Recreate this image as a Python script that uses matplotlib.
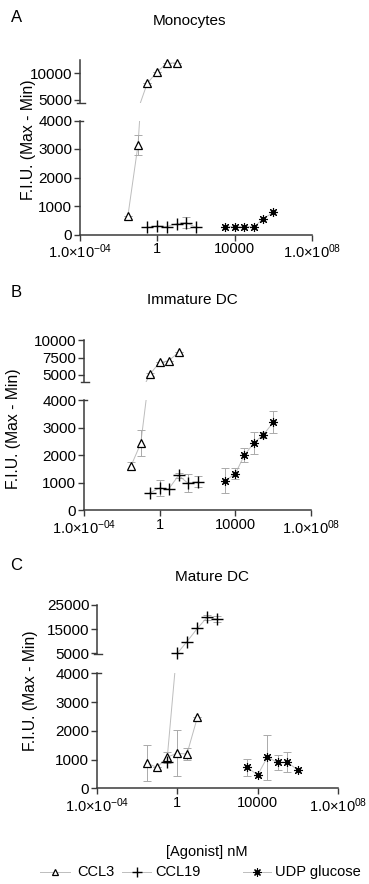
import numpy as np
import matplotlib
matplotlib.use('Agg')
import matplotlib.pyplot as plt
from matplotlib.lines import Line2D

plt.rcParams['font.family'] = ['Liberation Sans', 'DejaVu Sans']
plt.rcParams['mathtext.fontset'] = 'custom'
plt.rcParams['mathtext.rm'] = 'Liberation Sans'
plt.rcParams['mathtext.default'] = 'regular'

# Концентрации агонистов (нМ)
ccl3_x = [0.03, 0.1, 0.3, 1, 3, 10]
ccl19_x = [0.3, 1, 3, 10, 30, 100]
udp_x = [3000, 10000, 30000, 1e5, 3e5, 1e6]

# A - моноциты
ccl3_a = [650, 3140, 8120, 10300, 11870, 11990]
ccl3_a_err = [0, 350, 0, 0, 0, 0]
ccl19_a = [250, 300, 280, 380, 420, 250]
ccl19_a_err = [0, 0, 0, 0, 200, 0]
udp_a = [270, 270, 270, 270, 550, 780]
udp_a_err = [0, 0, 0, 0, 0, 0]

# B - незрелые DC
ccl3_b = [1610, 2440, 5100, 6800, 7040, 8240]
ccl3_b_err = [150, 470, 200, 0, 0, 0]
ccl19_b = [640, 820, 780, 1280, 1000, 1040]
ccl19_b_err = [0, 280, 0, 100, 330, 200]
udp_b = [1090, 1340, 2010, 2470, 2750, 3200]
udp_b_err = [450, 200, 250, 400, 100, 400]

# C - зрелые DC
ccl3_c = [870, 730, 1080, 1220, 1190, 2470]
ccl3_c_err = [620, 0, 200, 800, 200, 0]
ccl19_c = [900, 5000, 9800, 15350, 19840, 19100]
ccl19_c_err = [0, 0, 0, 0, 1200, 1200]
udp_c = [730, 460, 1080, 900, 900, 640]
udp_c_err = [300, 0, 780, 250, 350, 0]

x_ticks = [1e-4, 1, 1e4, 1e8]
x_labels = ['1.0×10$^{-04}$', '1', '10000', '1.0×10$^{08}$']
low_ticks = [0, 1000, 2000, 3000, 4000]
legend_names = ['CCL3', 'CCL19', 'UDP glucose']

W, H = 369, 884
fig = plt.figure(figsize=(W / 100, H / 100), dpi=100)

ax_col = '#3a3a3a'
line_col = '#bdbdbd'
err_col = '#aaaaaa'


def box(left, right, top, bottom):
    return [left / W, 1 - bottom / H, (right - left) / W, (bottom - top) / H]


def style(ax):
    for s in ['top', 'right']:
        ax.spines[s].set_visible(False)
    for s in ['left', 'bottom']:
        ax.spines[s].set_color(ax_col)
        ax.spines[s].set_linewidth(1.1)
    ax.tick_params(direction='out', length=4, width=1, color=ax_col, pad=1.5)
    ax.tick_params(axis='y', labelsize=11)
    ax.tick_params(axis='x', labelsize=10.5)
    ax.set_xscale('log')
    ax.set_xlim(1e-4, 1e8)
    ax.minorticks_off()
    ax.patch.set_alpha(0)


def marker_kw(kind):
    if kind == 'ccl3':
        return [dict(marker='^', ms=5.5, mfc='white', mec='k', mew=0.9)]
    if kind == 'ccl19':
        return [dict(marker='+', ms=8, mec='k', mew=1.0)]
    return [dict(marker='o', ms=3.2, mfc='k', mec='k', mew=0.5),
            dict(marker=(8, 2, 0), ms=6.5, mec='k', mew=0.8)]


def draw_series(ax, x, y, err, lo, hi, kind):
    x = np.array(x, dtype=float)
    y = np.array(y, dtype=float)
    err = np.array(err, dtype=float)
    ax.plot(x, y, color=line_col, lw=0.7, zorder=1)
    m = (y >= lo) & (y <= hi)
    if not m.any():
        return
    ax.errorbar(x[m], y[m], yerr=err[m], fmt='none', ecolor=err_col,
                elinewidth=0.7, capsize=3, capthick=0.7, zorder=2, clip_on=False)
    for kw in marker_kw(kind):
        ax.plot(x[m], y[m], ls='none', zorder=3, clip_on=False, **kw)


def panel(letter, title, pos, up_lim, up_ticks, data, letter_xy, title_xy, ylab_xy):
    left, right, up_top, up_bot, lo_top, lo_bot = pos
    ax_lo = fig.add_axes(box(left, right, lo_top, lo_bot))
    ax_up = fig.add_axes(box(left, right, up_top, up_bot))
    style(ax_lo)
    style(ax_up)
    ax_lo.set_ylim(0, 4000)
    ax_lo.set_yticks(low_ticks)
    ax_lo.set_xticks(x_ticks)
    ax_lo.set_xticklabels(x_labels)
    ax_up.set_ylim(*up_lim)
    ax_up.set_yticks(up_ticks)
    ax_up.spines['bottom'].set_visible(False)
    ax_up.set_xticks([])
    # знаки разрыва оси
    ax_lo.plot([0, 0.015], [4000, 4000], color=ax_col, lw=1,
               transform=ax_lo.get_yaxis_transform(), clip_on=False)
    ax_up.plot([-0.012, 0.02], [0, 0], color=ax_col, lw=1,
               transform=ax_up.transAxes, clip_on=False)
    for x, y, e, kind in data:
        draw_series(ax_lo, x, y, e, 0, 4000, kind)
        draw_series(ax_up, x, y, e, up_lim[0], up_lim[1], kind)
    fig.text(letter_xy[0] / W, 1 - letter_xy[1] / H, letter, fontsize=12,
             ha='center', va='center')
    fig.text(title_xy[0] / W, 1 - title_xy[1] / H, title, fontsize=11,
             ha='center', va='center')
    fig.text(ylab_xy[0] / W, 1 - ylab_xy[1] / H, 'F.I.U. (Max - Min)',
             fontsize=11.3, rotation=90, ha='center', va='center')
    return ax_lo


panel('A', 'Monocytes', (80, 312, 60, 102.5, 120.5, 234.5), (4500, 12500), [5000, 10000],
      [(ccl3_x, ccl3_a, ccl3_a_err, 'ccl3'),
       (ccl19_x, ccl19_a, ccl19_a_err, 'ccl19'),
       (udp_x, udp_a, udp_a_err, 'udp')],
      (17, 17), (189, 21), (28, 140))

panel('B', 'Immature DC', (84, 311, 340, 382, 400.5, 510.5), (4000, 10000), [5000, 7500, 10000],
      [(ccl3_x, ccl3_b, ccl3_b_err, 'ccl3'),
       (ccl19_x, ccl19_b, ccl19_b_err, 'ccl19'),
       (udp_x, udp_b, udp_b_err, 'udp')],
      (16, 293), (192, 300), (14, 429))

panel('C', 'Mature DC', (97, 338, 605, 654, 673.3, 788.3), (4700, 25000), [5000, 15000, 25000],
      [(ccl3_x, ccl3_c, ccl3_c_err, 'ccl3'),
       (ccl19_x, ccl19_c, ccl19_c_err, 'ccl19'),
       (udp_x, udp_c, udp_c_err, 'udp')],
      (16, 565), (212, 577), (30, 691))

fig.text(207 / W, 1 - 852 / H, '[Agonist] nM', fontsize=10.5, ha='center', va='center')

# легенда: короткая серая линия с маркером и подпись
leg_y = 1 - 872 / H
leg_slots = [(40, 70, 77), (122, 151, 155), (243, 271, 275)]
for (x0, x1, tx), name, kind in zip(leg_slots, legend_names, ['ccl3', 'ccl19', 'udp']):
    fig.add_artist(Line2D([x0 / W, x1 / W], [leg_y, leg_y], color=line_col, lw=0.7))
    for kw in marker_kw(kind):
        kw['ms'] = kw['ms'] * 0.9
        fig.add_artist(Line2D([(x0 + x1) / 2 / W], [leg_y], ls='none', **kw))
    fig.text(tx / W, leg_y, name, fontsize=10.5, ha='left', va='center')

fig.savefig('out.png', dpi=100)
